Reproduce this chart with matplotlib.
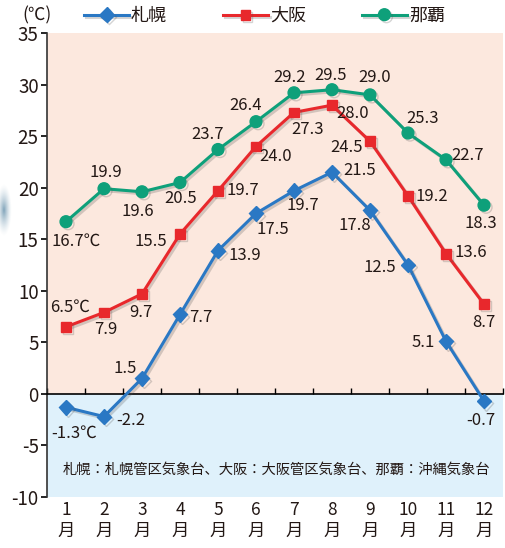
import matplotlib
matplotlib.use('Agg')
import matplotlib.pyplot as plt
import matplotlib.patheffects as pe
import numpy as np

plt.rcParams['font.family'] = ['Noto Sans CJK JP', 'DejaVu Sans']
plt.rcParams['axes.unicode_minus'] = False

##########
# data

months = np.arange(1, 13)
month_labels = [f'{m}\n月' for m in months]

sapporo = [-1.3, -2.2, 1.5, 7.7, 13.9, 17.5, 19.7, 21.5, 17.8, 12.5, 5.1, -0.7]
osaka = [6.5, 7.9, 9.7, 15.5, 19.7, 24.0, 27.3, 28.0, 24.5, 19.2, 13.6, 8.7]
naha = [16.7, 19.9, 19.6, 20.5, 23.7, 26.4, 29.2, 29.5, 29.0, 25.3, 22.7, 18.3]

# label offsets in pixels (dx, dy)
off_sapporo = [(8, -26), (27, -4), (-17, 10), (21, -3), (27, -5), (17, -16),
               (9, -15), (28, 2), (-15, -15), (-28, -2), (-23, -1), (-3, -19)]
off_osaka = [(4, 20), (2, -17), (-1, -19), (-29, -7), (25, 0), (20, -10),
             (14, -17), (21, -8), (-23, -6), (24, -1), (25, 1), (0, -18)]
off_naha = [(10, -20), (2, 16), (-4, -20), (1, -16), (-10, 15), (-10, 16),
            (-4, 15), (-1, 14), (5, 17), (15, 15), (22, 4), (-3, -18)]

blue = '#2a78c4'
red = '#e8282c'
green = '#0ea07a'
txt = '#231815'

##########
# figure

fig = plt.figure(figsize=(5.06, 5.48), dpi=100)
ax = fig.add_axes([47 / 506, 1 - 497 / 548, 456 / 506, 464 / 548])

ax.axhspan(0, 35, color='#fce8de', zorder=0, lw=0)
ax.axhspan(-10, 0, color='#dff1fb', zorder=0, lw=0)
ax.set_xlim(0.5, 12.5)
ax.set_ylim(-10, 35)

shadow = [pe.SimpleLineShadow(offset=(1.5, -1.5), shadow_color='#555555', alpha=0.25),
          pe.Normal()]

series = [
    ('札幌', sapporo, off_sapporo, blue, 'D', 7.5),
    ('大阪', osaka, off_osaka, red, 's', 7),
    ('那覇', naha, off_naha, green, 'o', 8.5),
]
for name, vals, offs, col, mk, ms in series:
    ax.plot(months, vals, color=col, lw=2.2, marker=mk, ms=ms, label=name,
            path_effects=shadow, zorder=3)
    for i, (x, v) in enumerate(zip(months, vals)):
        s = f'{v:.1f}'
        if i == 0:
            s += '℃'
        ax.annotate(s, (x, v), xytext=offs[i], textcoords='offset pixels',
                    ha='center', va='center', fontsize=12, color=txt, zorder=4)

##########
# axes

for side in ['top', 'right']:
    ax.spines[side].set_visible(False)
ax.spines['left'].set_color('#333333')
ax.spines['left'].set_linewidth(1.2)
ax.spines['bottom'].set_position(('data', 0))
ax.spines['bottom'].set_linewidth(1.2)
ax.set_yticks(np.arange(-10, 36, 5))
ax.tick_params(axis='y', direction='out', length=4, width=1.2, labelsize=13.5,
               labelcolor=txt, pad=2)

ax.set_xticks(np.arange(0.5, 13, 1))
ax.set_xticklabels([])
ax.tick_params(axis='x', direction='in', length=4, width=1.0)

sec = ax.secondary_xaxis('bottom')
sec.set_xticks(months)
sec.set_xticklabels(month_labels, fontsize=12.5, color=txt, linespacing=1.2)
sec.tick_params(length=0, pad=3)
sec.spines['bottom'].set_visible(False)

ax.text(6.54, -7.4, '札幌：札幌管区気象台、大阪：大阪管区気象台、那覇：沖縄気象台',
        ha='center', va='center', fontsize=10.3, color=txt, zorder=4)

##########
# legend

fig.text(22 / 506, 1 - 15 / 548, '(℃)', ha='left', va='center', fontsize=12.5, color=txt)
leg = fig.legend(loc='center left', bbox_to_anchor=(84 / 506, 1 - 16 / 548), ncol=3,
                 frameon=False, fontsize=13, handlelength=2.5, handletextpad=0.1,
                 columnspacing=3.1, borderaxespad=0, borderpad=0)
for t in leg.get_texts():
    t.set_color(txt)

# blurry blob at left edge
bx = fig.add_axes([0, 1 - 245 / 548, 22 / 506, 70 / 548])
yy, xx = np.mgrid[-1:1:70j, -0.2:1:22j]
r = np.sqrt((xx * 2.2) ** 2 + (yy * 1.3) ** 2)
a = np.clip(1 - r, 0, 1) ** 1.5
img = np.zeros((70, 22, 4))
img[..., 0], img[..., 1], img[..., 2] = 0.38, 0.55, 0.66
img[..., 3] = a * 0.8
bx.imshow(img, aspect='auto')
bx.axis('off')

fig.savefig('out.png', dpi=100)
